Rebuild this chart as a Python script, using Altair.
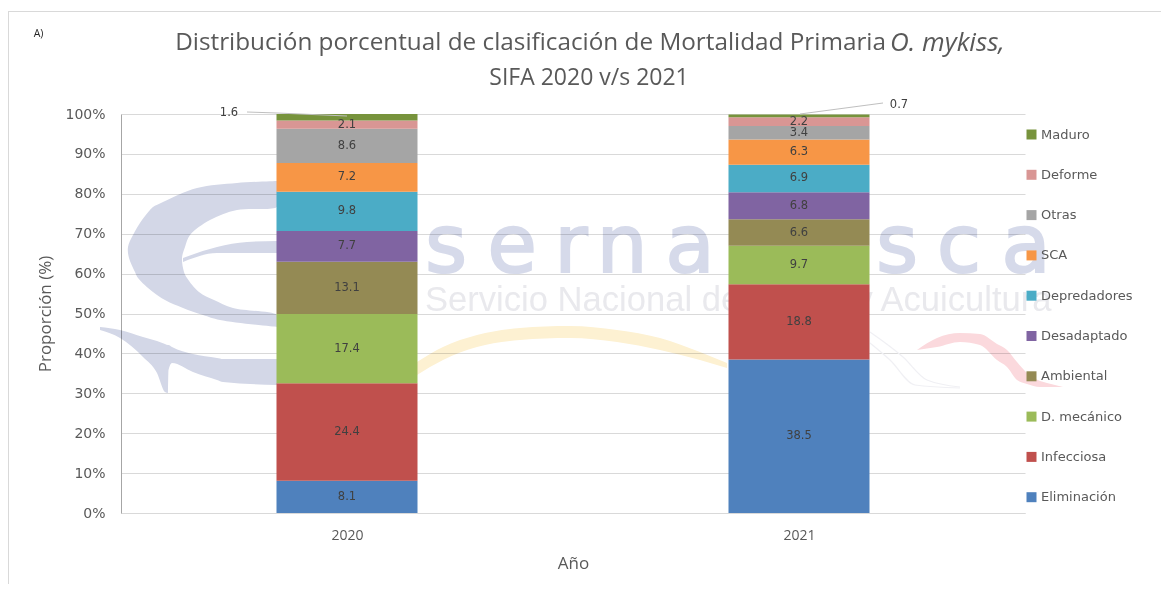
import altair as alt
import pandas as pd

# ---- chart values
years = [2020, 2021]
categories = ["Eliminación", "Infecciosa", "D. mecánico", "Ambiental", "Desadaptado",
              "Depredadores", "SCA", "Otras", "Deforme", "Maduro"]
values_2020 = [8.1, 24.4, 17.4, 13.1, 7.7, 9.8, 7.2, 8.6, 2.1, 1.6]
values_2021 = [38.5, 18.8, 9.7, 6.6, 6.8, 6.9, 6.3, 3.4, 2.2, 0.7]
colors = ["#4f81bd", "#c0504d", "#9bbb59", "#948a54", "#8064a2",
          "#4bacc6", "#f79646", "#a5a5a5", "#d99694", "#77933c"]

# ---- watermark outline (page pixels)
cres_y = [181, 183, 188, 202, 207, 210, 220, 235, 247, 258, 272, 278, 292, 300, 308, 315, 320, 327]
cres_l = [277, 237, 197, 163, 153, 150, 142, 133, 128, 129, 135, 138, 153, 165, 183, 203, 220, 277]
cres_r = [277, 277, 277, 277, 277, 237, 210, 190, 185, 182, 184, 187, 199, 214, 233, 277, 277, 277]
sliv_x = [183, 217, 247, 277]
sliv_t = [258, 247, 242, 241]
sliv_b = [262, 253, 253, 253]
tail_x = [100, 120, 143, 157, 165, 168, 168.5, 172, 193, 217, 223, 277]
tail_t = [327, 330, 337, 341, 344, 345, 345, 347, 354, 358, 359, 359]
tail_b = [330, 338, 357, 373, 392, 393, 370, 363, 372, 380, 382, 385]
gold_x = [417, 443, 477, 520, 570, 617, 660, 700, 727]
gold_t = [362, 347, 335, 328, 326, 330, 338, 352, 363]
gold_b = [375, 360, 347, 340, 338, 342, 350, 360, 368]
pink_x = [917, 937, 960, 980, 997, 1007, 1017, 1027, 1040, 1047, 1063]
pink_t = [350, 338, 333, 334, 344, 350, 362, 373, 381, 383, 387]
pink_b = [350, 347, 342, 345, 360, 367, 380, 384, 387, 387, 387]
curve1_x = [870, 903, 927, 960]
curve1_y = [332, 357, 380, 387]
curve2_x = [870, 890, 915, 960]
curve2_y = [343, 360, 385, 388]
letters = list("serna") + list("sca")
letter_x = [446, 512, 571, 622, 690, 897, 959, 1026]
letter_y = [272] * len(letters)

PL, PT, PW, PH = 121, 114, 904, 399
def yr(px):
    return [2019.5 + (p - PL) / (PW / 2) for p in px]
def pc(py):
    return [(PT + PH - p) / (PH / 100) for p in py]

X = alt.Scale(domain=[2019.5, 2021.5], padding=0, nice=False)
Y = alt.Scale(domain=[0, 100], nice=False)
AX = alt.Axis(values=years, format="d", grid=False, ticks=False,
              domainColor="#d9d9d9", labelColor="#595959",
              labelFont="Open Sans", labelFontSize=14, labelPadding=15,
              titleColor="#595959", titleFont="Open Sans", titleFontSize=17,
              titleFontWeight="normal", titlePadding=13)
AY = alt.Axis(values=list(range(0, 101, 10)), labelExpr="datum.value + '%'", labelOverlap=False,
              grid=True, gridColor="#d9d9d9", ticks=False,
              domainColor="#a6a6a6", labelColor="#595959",
              labelFont="DejaVu Sans", labelFontSize=14, labelPadding=16,
              titleColor="#595959", titleFont="Open Sans", titleFontSize=17,
              titleFontWeight="normal", titlePadding=10)
def xq(f="x"):
    return alt.X(f"{f}:Q", scale=X, title="Año", axis=AX)
def yq(f="y", stack=False):
    return alt.Y(f"{f}:Q", scale=Y, stack=stack, title="Proporción (%)", axis=AY)

wm = "#d3d7e7"
crescent = alt.Chart(pd.DataFrame({"y": pc(cres_y), "x": yr(cres_l), "x2": yr(cres_r)})).mark_area(
    orient="horizontal", color=wm, opacity=1, interpolate="catmull-rom", blend="multiply").encode(
    x=xq(), x2="x2:Q", y=yq())

def band(xs, ts, bs, col):
    return alt.Chart(pd.DataFrame({"x": yr(xs), "y": pc(ts), "y2": pc(bs)})).mark_area(
        color=col, opacity=1, interpolate="monotone", blend="multiply").encode(x=xq(), y=yq(), y2="y2:Q")

def thin(xs, ys, col, width=1.2, interp="monotone"):
    return alt.Chart(pd.DataFrame({"x": yr(xs), "y": pc(ys)})).mark_line(
        color=col, strokeWidth=width, interpolate=interp).encode(x=xq(), y=yq())

letter_df = pd.DataFrame({"t": letters, "x": yr(letter_x), "y": pc(letter_y)})
word = alt.Chart(letter_df).mark_text(font="DejaVu Sans", fontSize=80, color="#d6daea",
                                      stroke="#d6daea", strokeWidth=2.2, blend="multiply",
                                      baseline="alphabetic", align="center").encode(
    x=xq(), y=yq(), text="t:N")
sub = alt.Chart(pd.DataFrame({"t": ["Servicio Nacional de Pesca y Acuicultura"],
                              "x": yr([425]), "y": pc([301])})).mark_text(
    font="Liberation Sans", fontSize=34.6, color="#e9e9ed", align="left", baseline="middle",
    blend="multiply").encode(x=xq(), y=yq(), text="t:N")

# ---- bars
rows = []
for yr_, vals in zip(years, [values_2020, values_2021]):
    for i, (c, v) in enumerate(zip(categories, vals)):
        rows.append({"year": yr_, "cat": c, "v": v, "idx": i})
df = pd.DataFrame(rows)

color = alt.Color("cat:N", scale=alt.Scale(domain=categories[::-1], range=colors[::-1]),
                  legend=alt.Legend(orient="none", legendX=904, legendY=14, title=None,
                                    symbolType="square", symbolSize=100, symbolStrokeWidth=0,
                                    labelFont="DejaVu Sans", labelFontSize=13, labelColor="#595959",
                                    labelOffset=3, rowPadding=26.3, padding=0,
                                    labelLimit=200))
bars = alt.Chart(df).mark_bar(size=141, opacity=1).encode(
    x=xq("year"), y=yq("v", stack="zero"), color=color, order=alt.Order("idx:Q"))

stacked = alt.Chart(df).transform_stack(stack="v", groupby=["year"],
                                        sort=[{"field": "idx", "order": "ascending"}],
                                        as_=["s0", "s1"]).transform_calculate(mid="(datum.s0 + datum.s1) / 2")
lab_kw = dict(font="DejaVu Sans", fontSize=11.5, color="#404040", baseline="middle")
lab_text = alt.Text("v:Q", format=".1f")
labels = stacked.transform_filter("datum.cat !== 'Maduro'").mark_text(**lab_kw).encode(
    x=xq("year"), y=yq("mid"), text=lab_text)
lab_20 = stacked.transform_filter("datum.cat === 'Maduro' && datum.year === 2020").mark_text(
    dx=-118, dy=-4, **lab_kw).encode(x=xq("year"), y=yq("mid"), text=lab_text)
lab_21 = stacked.transform_filter("datum.cat === 'Maduro' && datum.year === 2021").mark_text(
    dx=100, dy=-11, **lab_kw).encode(x=xq("year"), y=yq("mid"), text=lab_text)

# ---- leader lines
lead_20 = thin([247, 277, 347], [112, 113, 116], "#bfbfbf", 1, "linear")
lead_21 = thin([800, 883], [114, 103], "#bfbfbf", 1, "linear")

# ---- titles and frame
def txt(s, px, py, **kw):
    return alt.Chart(pd.DataFrame({"t": [s]})).mark_text(baseline="middle", **kw).encode(
        x=alt.value(px - PL), y=alt.value(py - PT), text="t:N")

t_col = dict(font="Open Sans", color="#595959")
t1 = txt("Distribución porcentual de clasificación de Mortalidad Primaria", 886, 43,
         align="right", fontSize=24.3, **t_col)
t2 = txt("O. mykiss,", 890, 43, align="left", fontStyle="italic", fontSize=26, **t_col)
t3 = txt("SIFA 2020 v/s 2021", 589, 78, align="center", fontSize=23, **t_col)
tA = txt("A)", 38.5, 34, align="center", font="Open Sans", fontSize=10.5, color="#262626")

frame_kw = dict(color="#d9d9d9", strokeWidth=1)
frame_top = alt.Chart(pd.DataFrame({"a": [0]})).mark_rule(**frame_kw).encode(
    x=alt.value(8 - PL), x2=alt.value(1161 - PL), y=alt.value(11.5 - PT))
frame_left = alt.Chart(pd.DataFrame({"a": [0]})).mark_rule(**frame_kw).encode(
    x=alt.value(8.5 - PL), y=alt.value(11 - PT), y2=alt.value(584 - PT))

chart = alt.layer(
    crescent,
    band(sliv_x, sliv_t, sliv_b, wm),
    band(tail_x, tail_t, tail_b, wm),
    band(gold_x, gold_t, gold_b, "#fdf1d2"),
    band(pink_x, pink_t, pink_b, "#fbd9dd"),
    thin(curve1_x, curve1_y, "#f0f0f4"),
    thin(curve2_x, curve2_y, "#f0f0f4"),
    word, sub,
    bars, labels, lab_20, lab_21, lead_20, lead_21,
    t1, t2, t3, tA, frame_top, frame_left,
).properties(
    width=PW, height=PH,
    padding={"left": PL - 8, "top": PT - 8, "right": 1161 - PL - PW, "bottom": 584 - PT - PH},
    autosize=alt.AutoSizeParams(type="none", contains="content"),
    background="#ffffff",
).configure_view(stroke=None)

chart.save("out.html", embed_options={"renderer": "svg", "actions": False})
